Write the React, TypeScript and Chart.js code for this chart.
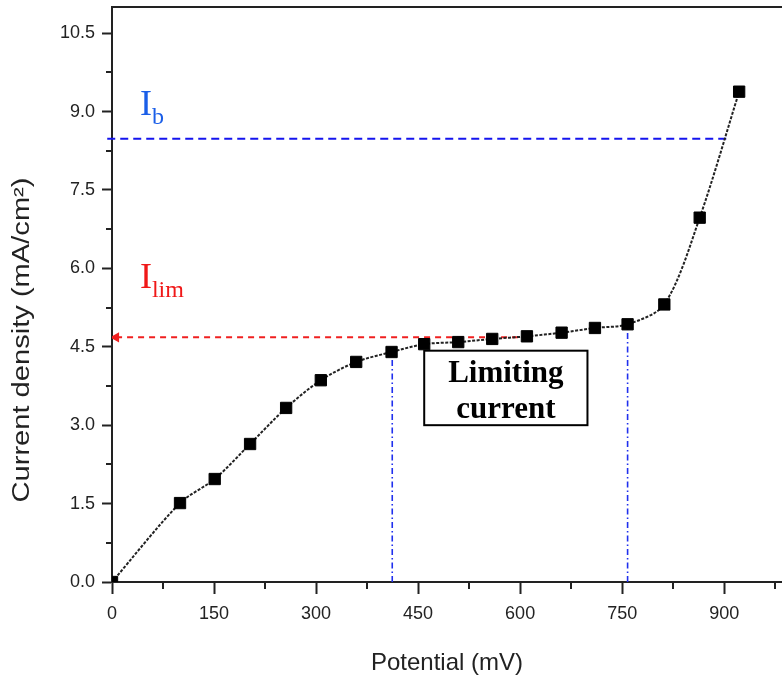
import React, { useEffect, useRef } from 'react';
import { Chart, registerables } from 'chart.js';

Chart.register(...registerables);

// ---- data ----
const POTENTIAL = [0, 100, 151, 203, 256, 307, 359, 411, 459, 509, 559, 610, 661, 710, 758, 812, 864, 922];
const CURRENT = [0, 1.51, 1.97, 2.64, 3.33, 3.86, 4.21, 4.40, 4.55, 4.59, 4.65, 4.70, 4.77, 4.86, 4.93, 5.31, 6.97, 9.38];

const X_TICKS = [0, 150, 300, 450, 600, 750, 900];
const X_MINOR = [75, 225, 375, 525, 675, 825, 975];
const Y_TICKS = [0, 1.5, 3.0, 4.5, 6.0, 7.5, 9.0, 10.5];
const Y_MINOR = [0.75, 2.25, 3.75, 5.25, 6.75, 8.25, 9.75];

const IB_X = [-7, 904];
const IB_Y = [8.48, 8.48];
const ILIM_X = [6, 605];
const ILIM_Y = [4.68, 4.68];
const START_X = [412, 412];
const START_Y = [0, 4.40];
const END_X = [758, 758];
const END_Y = [0, 4.93];

const X_TITLE = 'Potential (mV)';
const Y_TITLE = 'Current density (mA/cm\u00B2)';
const IB_LABEL = { x: 41, y: 8.93, main: 'I', sub: 'b' };
const ILIM_LABEL = { x: 41, y: 5.62, main: 'I', sub: 'lim' };
const BOX = { x1: 459, x2: 699, y1: 4.425, y2: 3.0, lines: ['Limiting', 'current'], baselines: [3.83, 3.14] };

const SANS = '"Liberation Sans", Arial, sans-serif';
const SERIF = '"Liberation Serif", "Times New Roman", serif';
const INK = '#222';

const toPts = (xs: number[], ys: number[]) => xs.map((x, i) => ({ x, y: ys[i] }));

const decorPlugin = {
  id: 'decor',
  afterDraw(chart: any) {
    const { ctx, chartArea, scales } = chart;
    const xs = scales.x;
    const ys = scales.y;
    ctx.save();
    // top frame line
    ctx.strokeStyle = INK;
    ctx.lineWidth = 2;
    ctx.beginPath();
    ctx.moveTo(chartArea.left - 1, chartArea.top);
    ctx.lineTo(chartArea.right, chartArea.top);
    ctx.stroke();
    // minor ticks
    ctx.lineWidth = 2;
    ctx.beginPath();
    X_MINOR.forEach((v) => {
      const p = Math.round(xs.getPixelForValue(v));
      ctx.moveTo(p, chartArea.bottom);
      ctx.lineTo(p, chartArea.bottom + 7);
    });
    Y_MINOR.forEach((v) => {
      const p = Math.round(ys.getPixelForValue(v));
      ctx.moveTo(chartArea.left, p);
      ctx.lineTo(chartArea.left - 6, p);
    });
    ctx.stroke();

    // y title
    ctx.save();
    ctx.translate(23, 340);
    ctx.rotate(-Math.PI / 2);
    ctx.font = '23px ' + SANS;
    ctx.fillStyle = INK;
    ctx.textAlign = 'center';
    ctx.textBaseline = 'middle';
    const w = ctx.measureText(Y_TITLE).width;
    ctx.scale(325 / w, 1);
    ctx.fillText(Y_TITLE, 0, 0);
    ctx.restore();

    // I labels
    const drawSub = (lab: any, color: string) => {
      const px = xs.getPixelForValue(lab.x);
      const py = ys.getPixelForValue(lab.y);
      ctx.fillStyle = color;
      ctx.textAlign = 'left';
      ctx.textBaseline = 'alphabetic';
      ctx.font = '36px ' + SERIF;
      ctx.fillText(lab.main, px, py);
      const mw = ctx.measureText(lab.main).width;
      ctx.font = '24px ' + SERIF;
      ctx.fillText(lab.sub, px + mw, py + 9);
    };
    drawSub(IB_LABEL, '#1a5ee8');
    drawSub(ILIM_LABEL, '#f01818');

    // boxed label
    const bx1 = xs.getPixelForValue(BOX.x1);
    const bx2 = xs.getPixelForValue(BOX.x2);
    const by1 = ys.getPixelForValue(BOX.y1);
    const by2 = ys.getPixelForValue(BOX.y2);
    ctx.fillStyle = '#fff';
    ctx.fillRect(bx1, by1, bx2 - bx1, by2 - by1);
    ctx.strokeStyle = '#000';
    ctx.lineWidth = 2;
    ctx.strokeRect(bx1, by1, bx2 - bx1, by2 - by1);
    ctx.fillStyle = '#000';
    ctx.font = 'bold 31px ' + SERIF;
    ctx.textAlign = 'center';
    ctx.textBaseline = 'alphabetic';
    BOX.lines.forEach((t, i) => {
      ctx.fillText(t, (bx1 + bx2) / 2, ys.getPixelForValue(BOX.baselines[i]));
    });
    ctx.restore();
  },
};

export default function App() {
  const ref = useRef<HTMLCanvasElement | null>(null);
  useEffect(() => {
    if (!ref.current) return;
    const chart = new Chart(ref.current, {
      type: 'line',
      data: {
        datasets: [
          {
            data: toPts(POTENTIAL, CURRENT),
            borderColor: '#222',
            borderWidth: 2,
            borderDash: [3, 1.5],
            tension: 0.3,
            pointStyle: 'rect',
            pointRadius: 8,
            pointBackgroundColor: '#000',
            pointBorderColor: '#000',
            pointBorderWidth: 1,
          },
          {
            data: toPts(IB_X, IB_Y),
            borderColor: '#1414ee',
            borderWidth: 2,
            borderDash: [8, 5],
            pointRadius: 0,
            clip: false,
          },
          {
            data: toPts(ILIM_X, ILIM_Y),
            borderColor: '#f02020',
            borderWidth: 2,
            borderDash: [6, 5],
            pointStyle: 'triangle',
            pointRadius: [4, 0],
            pointRotation: [-90, 0],
            pointBackgroundColor: '#f02020',
            pointBorderColor: '#f02020',
          },
          {
            data: toPts(START_X, START_Y),
            borderColor: '#2030ee',
            borderWidth: 1.6,
            borderDash: [6, 3, 1.5, 3],
            pointRadius: 0,
          },
          {
            data: toPts(END_X, END_Y),
            borderColor: '#2030ee',
            borderWidth: 1.6,
            borderDash: [6, 3, 1.5, 3],
            pointRadius: 0,
          },
        ],
      },
      options: {
        responsive: false,
        devicePixelRatio: 1,
        animation: false,
        layout: { autoPadding: false, padding: { top: 7, right: 0, left: 0, bottom: 0 } },
        plugins: { legend: { display: false }, tooltip: { enabled: false } },
        scales: {
          x: {
            type: 'linear',
            min: 0,
            max: 985,
            afterBuildTicks: (s: any) => {
              s.ticks = X_TICKS.map((v) => ({ value: v }));
            },
            afterFit: (s: any) => {
              s.height = 93;
              s.paddingLeft = 0;
              s.paddingRight = 0;
            },
            ticks: {
              autoSkip: false,
              maxRotation: 0,
              padding: 9,
              color: INK,
              font: { family: SANS, size: 18 },
              callback: (v: any) => String(v),
            },
            grid: { drawOnChartArea: false, drawTicks: true, tickLength: 12, tickWidth: 2, tickColor: INK },
            border: { display: true, width: 2, color: INK },
            title: {
              display: true,
              text: X_TITLE,
              color: INK,
              font: { family: SANS, size: 24 },
              padding: { top: 0, bottom: -3 },
            },
          },
          y: {
            type: 'linear',
            min: 0,
            max: 11,
            afterBuildTicks: (s: any) => {
              s.ticks = Y_TICKS.map((v) => ({ value: v }));
            },
            afterFit: (s: any) => {
              s.width = 112;
              s.paddingTop = 0;
              s.paddingBottom = 0;
            },
            ticks: {
              autoSkip: false,
              padding: 7,
              color: INK,
              font: { family: SANS, size: 18 },
              callback: (v: any) => Number(v).toFixed(1),
            },
            grid: { drawOnChartArea: false, drawTicks: true, tickLength: 10, tickWidth: 2, tickColor: INK },
            border: { display: true, width: 2, color: INK },
          },
        },
      } as any,
      plugins: [decorPlugin],
    });
    return () => chart.destroy();
  }, []);
  return (
    <div style={{ position: 'absolute', left: 0, top: 0, width: 782, height: 675, background: '#fff' }}>
      <canvas ref={ref} width={782} height={675} />
    </div>
  );
}
